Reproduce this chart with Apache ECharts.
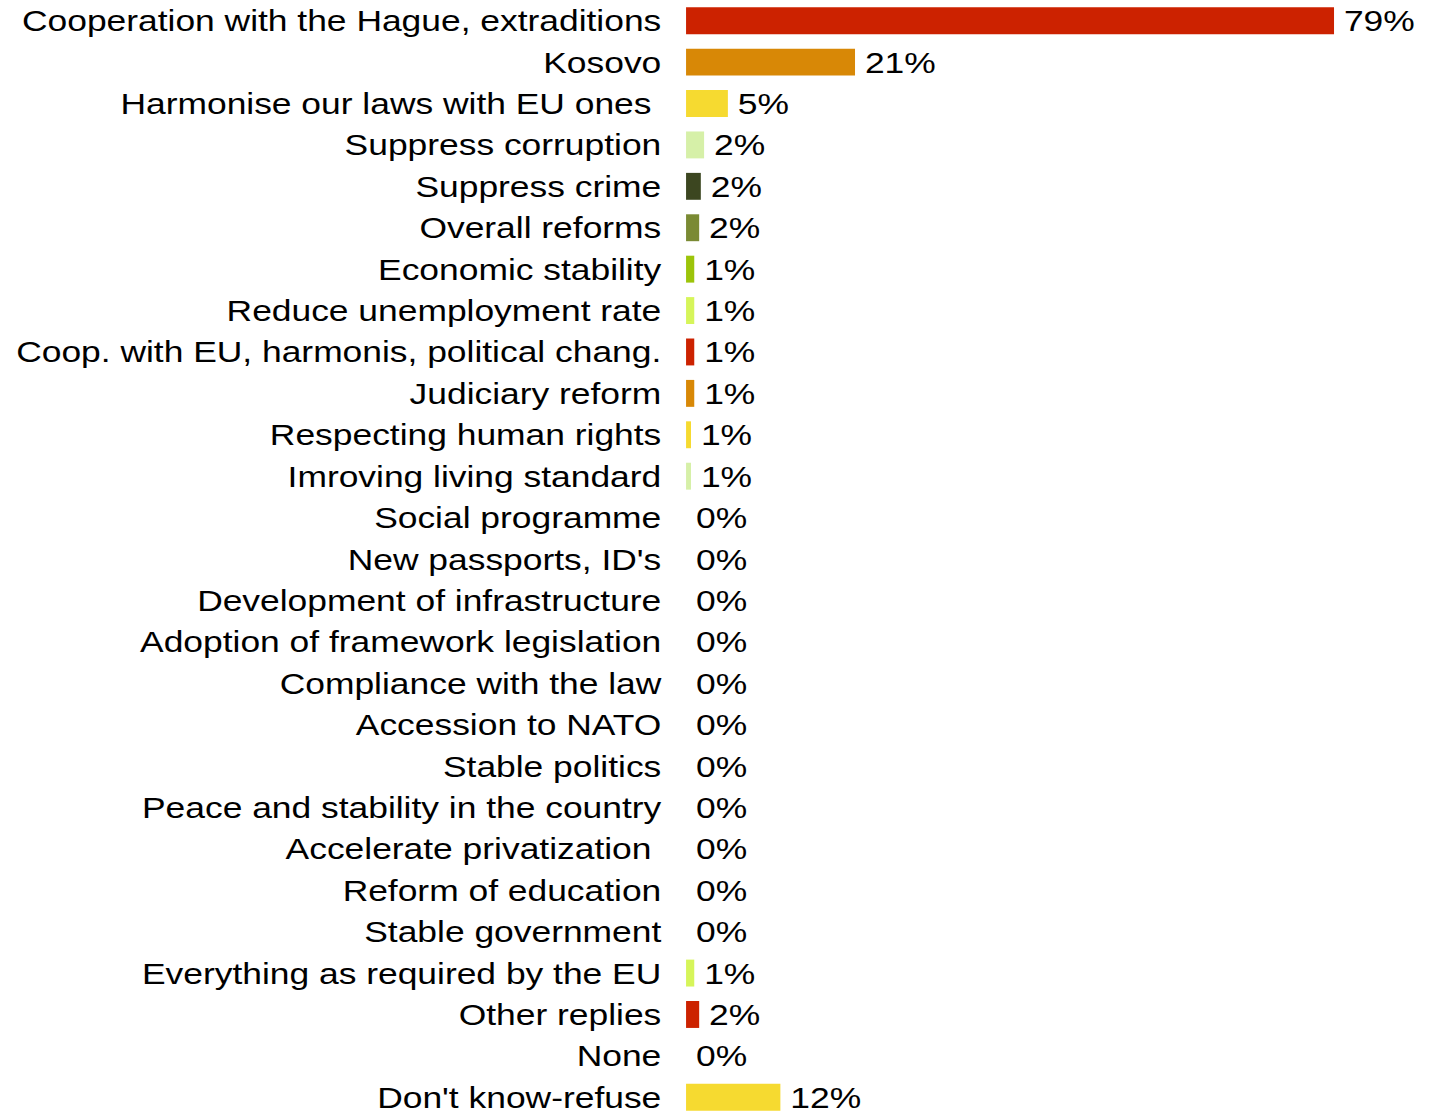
<!DOCTYPE html>
<html>
<head>
<meta charset="utf-8">
<script src="https://cdn.jsdelivr.net/npm/echarts@6/dist/echarts.min.js"></script>
<style>
  html, body { margin: 0; padding: 0; background: #fff; overflow: hidden; }
  /* the source picture is stretched horizontally, so the chart is too */
  #chart { width: 1211px; height: 1115px; transform: scaleX(1.18); transform-origin: 0 0; }
</style>
</head>
<body>
<div id="chart"></div>
<script>
// categories, top to bottom
const categories = [
  "Cooperation with the Hague, extraditions",
  "Kosovo",
  "Harmonise our laws with EU ones ",
  "Suppress corruption",
  "Suppress crime",
  "Overall reforms",
  "Economic stability",
  "Reduce unemployment rate",
  "Coop. with EU, harmonis, political chang.",
  "Judiciary reform",
  "Respecting human rights",
  "Imroving living standard",
  "Social programme",
  "New passports, ID's",
  "Development of infrastructure",
  "Adoption of framework legislation",
  "Compliance with the law",
  "Accession to NATO",
  "Stable politics",
  "Peace and stability in the country",
  "Accelerate privatization ",
  "Reform of education",
  "Stable government",
  "Everything as required by the EU",
  "Other replies",
  "None",
  "Don't know-refuse"
];

// percent values
const values = [
  79, 20.6, 5.1, 2.2, 1.8, 1.6, 1.0, 1.0, 1.0, 1.0, 0.6, 0.6,
  0, 0, 0, 0, 0, 0, 0, 0, 0, 0, 0,
  1.0, 1.6, 0, 11.5
];

// colour cycle used by the bars
const palette = [
  "#CC2200", "#D88806", "#F6DA30", "#D6F0A8",
  "#3C4620", "#7A8A33", "#9CC40A", "#D6F55A"
];

const chart = echarts.init(document.getElementById("chart"), null, { renderer: "svg" });

chart.setOption({
  animation: false,
  grid: {
    left: 581.4,
    top: 0,
    width: 695.1,
    height: 1118,
    outerBoundsMode: "none"
  },
  xAxis: {
    type: "value",
    min: 0,
    max: 100,
    show: false
  },
  yAxis: {
    type: "category",
    inverse: true,
    data: categories,
    axisLine: { show: false },
    axisTick: { show: false },
    axisLabel: {
      margin: 21,
      color: "#000",
      fontFamily: "Liberation Sans, Arial, sans-serif",
      fontSize: 30
    }
  },
  series: [
    {
      type: "bar",
      barCategoryGap: "35%",
      data: values.map((v, i) => ({
        value: v,
        itemStyle: { color: palette[i % palette.length] }
      })),
      label: {
        show: true,
        position: "right",
        distance: 8.4,
        color: "#000",
        fontFamily: "Liberation Sans, Arial, sans-serif",
        fontSize: 30,
        formatter: p => Math.round(p.value) + "%"
      }
    }
  ]
});
</script>
</body>
</html>
